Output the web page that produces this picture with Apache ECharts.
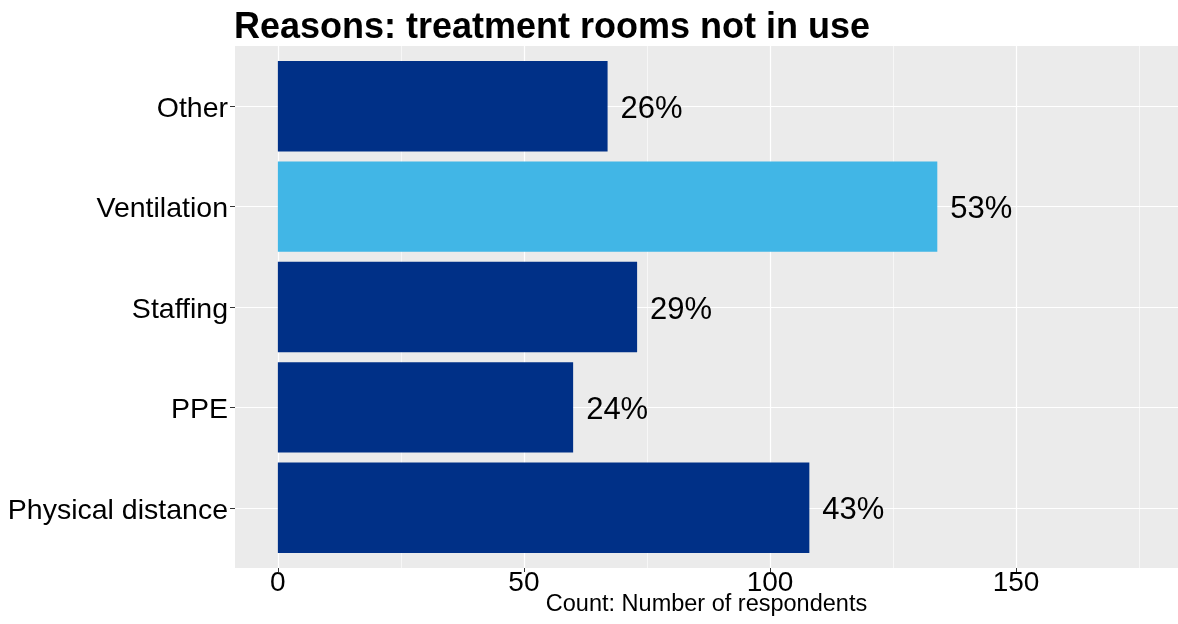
<!DOCTYPE html>
<html>
<head>
<meta charset="utf-8">
<script src="https://cdn.jsdelivr.net/npm/echarts@6/dist/echarts.min.js"></script>
<style>
  html, body { margin: 0; padding: 0; background: #ffffff; }
  #chart { width: 1178px; height: 624px; }
</style>
</head>
<body>
<div id="chart"></div>
<script>
// ---- data (bottom to top, as drawn) ----
const categories = ['Physical distance', 'PPE', 'Staffing', 'Ventilation', 'Other'];
const counts = [108, 60, 73, 134, 67];
const percentLabels = ['43%', '24%', '29%', '53%', '26%'];
const highlighted = ['Ventilation'];
const majorTicks = [0, 50, 100, 150];
const minorTicks = [25, 75, 125, 175];
const categoryPositions = [0, 1, 2, 3, 4];

const titleText = 'Reasons: treatment rooms not in use';
const xAxisTitle = 'Count: Number of respondents';

// ---- styling ----
const FONT = "'Liberation Sans', Arial, sans-serif";
const DARK = '#003087';
const LIGHT = '#41B6E6';
const XMIN = -8.71, XMAX = 182.91;

const chart = echarts.init(document.getElementById('chart'), null, { renderer: 'canvas' });

chart.setOption({
  animation: false,
  backgroundColor: '#ffffff',
  title: {
    text: titleText,
    left: 234,
    top: 10,
    padding: 0,
    textStyle: { fontFamily: FONT, fontSize: 36, fontWeight: 'bold', color: '#000000' }
  },
  grid: [
    { left: 235, right: 0, top: 46, bottom: 56, show: true, backgroundColor: '#EBEBEB', borderWidth: 0,
      containLabel: false, outerBoundsMode: 'none' },
    { left: 235, right: 0, top: 56, bottom: 66, show: false, containLabel: false, outerBoundsMode: 'none' }
  ],
  xAxis: [
    {
      gridIndex: 0, type: 'value', min: XMIN, max: XMAX, position: 'bottom',
      axisLine: { show: false, onZero: false },
      axisTick: { show: true, customValues: majorTicks, length: 4, lineStyle: { color: '#333333', width: 1 } },
      axisLabel: { show: true, customValues: majorTicks, margin: 1, fontFamily: FONT, fontSize: 28, color: '#000000' },
      splitLine: { show: true, lineStyle: { color: '#ffffff', width: 1.2 } },
      name: xAxisTitle, nameLocation: 'middle', nameGap: 25, nameMoveOverlap: false,
      nameTextStyle: { fontFamily: FONT, fontSize: 23.5, color: '#000000' }
    },
    {
      gridIndex: 0, type: 'value', min: XMIN, max: XMAX, position: 'top',
      axisLine: { show: false, onZero: false },
      axisTick: { show: false, customValues: minorTicks },
      axisLabel: { show: false, customValues: minorTicks },
      splitLine: { show: true, lineStyle: { color: '#ffffff', width: 0.6 } }
    },
    {
      gridIndex: 1, type: 'value', min: XMIN, max: XMAX,
      show: false,
      axisLine: { show: false, onZero: false },
      splitLine: { show: false }
    }
  ],
  yAxis: [
    {
      gridIndex: 0, type: 'value', min: -0.6, max: 4.6,
      axisLine: { show: false, onZero: false },
      axisTick: { show: false, customValues: categoryPositions },
      axisLabel: { show: false, customValues: categoryPositions },
      splitLine: { show: true, lineStyle: { color: '#ffffff', width: 1.2 } }
    },
    {
      gridIndex: 1, type: 'category', data: categories, position: 'left',
      axisLine: { show: false, onZero: false },
      axisTick: { show: true, alignWithLabel: true, length: 5, lineStyle: { color: '#333333', width: 1 } },
      axisLabel: { margin: 7, fontFamily: FONT, fontSize: 28.5, color: '#000000', verticalAlign: 'top', lineHeight: 6 },
      splitLine: { show: false }
    }
  ],
  series: [{
    type: 'bar',
    xAxisIndex: 2,
    yAxisIndex: 1,
    barCategoryGap: '10%',
    data: counts.map((v, i) => ({
      value: v,
      itemStyle: { color: highlighted.includes(categories[i]) ? LIGHT : DARK }
    })),
    label: {
      show: true,
      position: 'right',
      distance: 13,
      offset: [0, 3],
      fontFamily: FONT,
      fontSize: 31,
      color: '#000000',
      formatter: p => percentLabels[p.dataIndex]
    }
  }]
});
</script>
</body>
</html>
